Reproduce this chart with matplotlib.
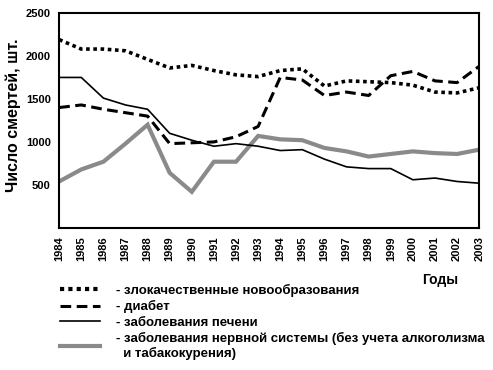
import matplotlib.pyplot as plt
from matplotlib.lines import Line2D

plt.rcParams['font.family'] = ['Liberation Sans', 'DejaVu Sans']
plt.rcParams['font.weight'] = 'bold'

years = list(range(1984, 2004))

# deaths per year
malignant = [2190, 2080, 2080, 2060, 1960, 1860, 1890, 1830, 1780, 1760,
             1830, 1850, 1650, 1710, 1700, 1690, 1660, 1580, 1570, 1630]
diabetes = [1400, 1430, 1380, 1340, 1300, 980, 990, 1000, 1060, 1180,
            1750, 1720, 1540, 1580, 1540, 1770, 1820, 1710, 1690, 1880]
liver = [1750, 1750, 1510, 1430, 1380, 1100, 1020, 950, 980, 950,
         900, 910, 800, 710, 690, 690, 560, 580, 540, 520]
nervous = [540, 680, 770, 980, 1200, 640, 420, 770, 770, 1070,
           1030, 1020, 930, 890, 830, 860, 890, 870, 860, 910]

labels = ['- злокачественные новообразования',
          '- диабет',
          '- заболевания печени',
          '- заболевания нервной системы (без учета алкоголизма\n  и табакокурения)']

fig = plt.figure(figsize=(4.93, 3.70), dpi=100)
ax = fig.add_axes([0.12, 0.384, 0.852, 0.581])

ax.plot(years, nervous, color='#8a8a8a', lw=3.0, solid_joinstyle='miter')
ax.plot(years, liver, color='black', lw=1.2)
ax.plot(years, diabetes, color='black', lw=2.2, linestyle=(0, (3.5, 1.8)), dash_capstyle='butt')
ax.plot(years, malignant, color='black', lw=2.6, linestyle=(0, (1, 1)), dash_capstyle='butt')

ax.set_xlim(1984, 2003)
ax.set_ylim(0, 2500)
ax.set_xticks(years)
ax.set_xticklabels([str(y) for y in years], rotation=90, fontsize=8, fontweight='bold')
ax.set_yticks([500, 1000, 1500, 2000, 2500])
ax.set_yticklabels(['500', '1000', '1500', '2000', '2500'], fontsize=8, fontweight='bold')
ax.tick_params(length=0, pad=6)
for s in ax.spines.values():
    s.set_linewidth(1.5)

ax.set_ylabel('Число смертей, шт.', fontsize=11.5, fontweight='bold')
ax.yaxis.set_label_coords(-0.09, 0.525)
fig.text(0.893, 0.243, 'Годы', fontsize=10, fontweight='bold', ha='center', va='center')

handles = [
    Line2D([], [], color='black', lw=3, linestyle=(0, (1, 1)), dash_capstyle='butt'),
    Line2D([], [], color='black', lw=2.2, linestyle=(0, (3.5, 1.8)), dash_capstyle='butt'),
    Line2D([], [], color='black', lw=1.2),
    Line2D([], [], color='#8a8a8a', lw=3.0),
]
fig.legend(handles, labels, loc='upper left', bbox_to_anchor=(0.122, 0.233), frameon=False,
           handlelength=3.0, handletextpad=1.2, labelspacing=0.25,
           borderpad=0, borderaxespad=0, prop={'weight': 'bold', 'size': 9.5})

fig.savefig('out.png', dpi=100)
